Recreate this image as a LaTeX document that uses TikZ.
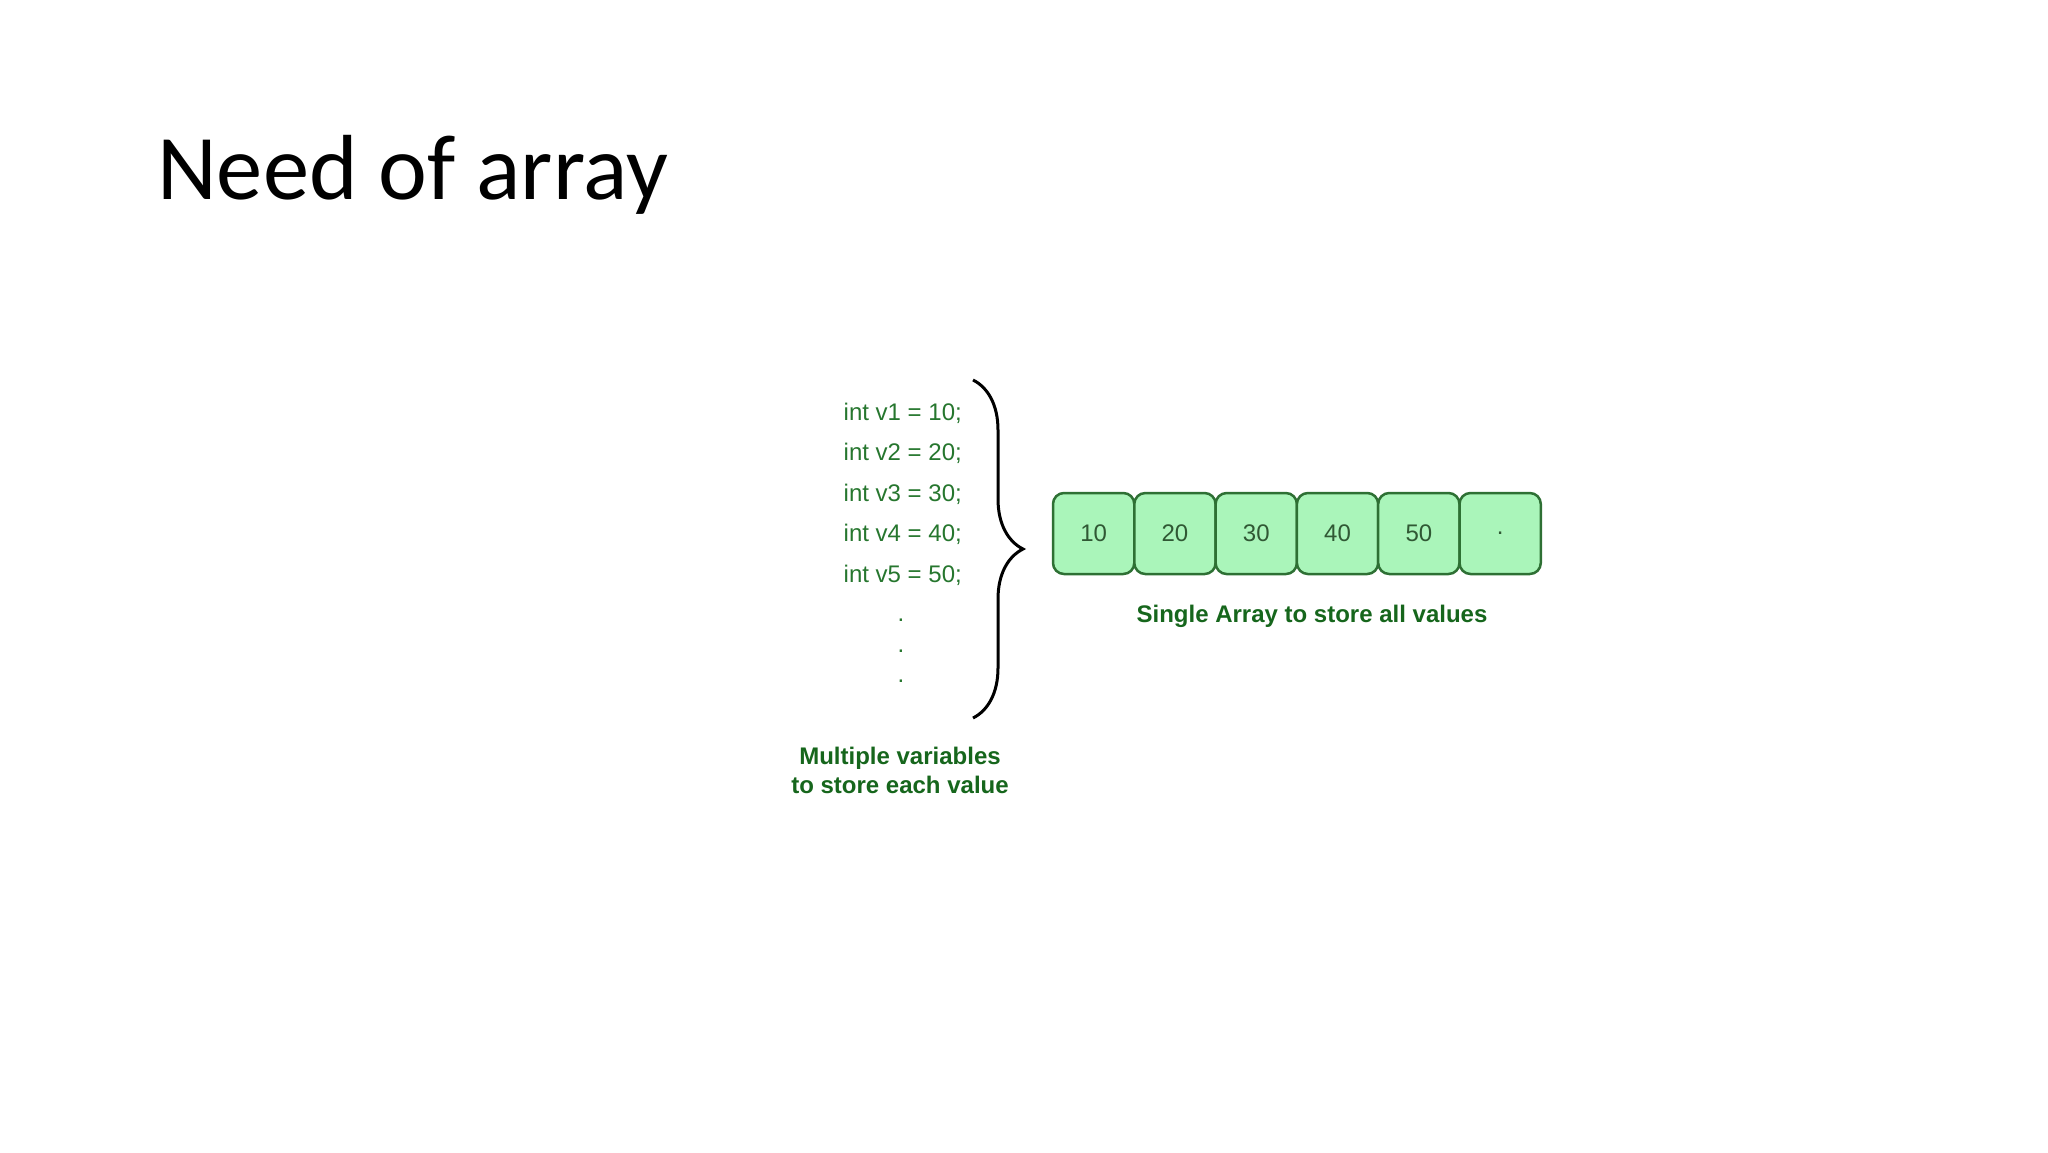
\documentclass[tikz,border=0pt]{standalone}
\usepackage{fontspec}
\usepackage{xcolor}
\usepackage{tikz}
\usetikzlibrary{positioning,decorations.pathreplacing}
\setmainfont{Carlito}
\newfontfamily\arialfont{Liberation Sans}
\definecolor{varcolor}{RGB}{38,118,46}
\definecolor{labelcolor}{RGB}{22,102,28}
\definecolor{cellfill}{RGB}{170,245,186}
\definecolor{celldraw}{RGB}{46,112,52}
\definecolor{cellnum}{RGB}{48,88,52}

\tikzset{
    varline/.style={anchor=base east, inner sep=0pt, text=varcolor, font=\arialfont\fontsize{24}{28}\selectfont},
    cell/.style={draw=celldraw, fill=cellfill, line width=2.5pt, rounded corners=11pt, minimum width=81.3pt, minimum height=81pt, inner sep=0pt, outer sep=0pt, text=cellnum, font=\arialfont\fontsize{24}{28}\selectfont},
    caption/.style={inner sep=0pt, text=labelcolor, font=\arialfont\bfseries\fontsize{24}{28.5}\selectfont}
}

\begin{document}
\begin{tikzpicture}[x=1pt, y=-1pt]
        \useasboundingbox (0,0) rectangle (2048,1152);

        % slide title
        \node[anchor=base west, inner sep=0pt, font=\fontsize{92.5}{100}\selectfont] (title) at (157,199) {Need of array};

        % one variable per value
        \node[varline] (v1) at (962,420) {int v1 = 10;};
        \node[varline] (v2) at (962,460.5) {int v2 = 20;};
        \node[varline] (v3) at (962,501) {int v3 = 30;};
        \node[varline] (v4) at (962,541.5) {int v4 = 40;};
        \node[varline] (v5) at (962,582) {int v5 = 50;};
        \node[varline, anchor=base] (dot1) at (901,621) {.};
        \node[varline, anchor=base] (dot2) at (901,652) {.};
        \node[varline, anchor=base] (dot3) at (901,682) {.};

        \coordinate (bracetop) at (973,380);
        \coordinate (bracebot) at (973,718);
        \draw[line width=3pt, decorate, decoration={brace, amplitude=50pt}] (bracetop) -- (bracebot);

        \node[caption, anchor=north, align=center] (multilabel) at (900,747) {Multiple variables\\to store each value};

        % the array
        \node[cell, anchor=west] (cell1) at (1053,533.5) {10};
        \node[cell, right=0pt of cell1] (cell2) {20};
        \node[cell, right=0pt of cell2] (cell3) {30};
        \node[cell, right=0pt of cell3] (cell4) {40};
        \node[cell, right=0pt of cell4] (cell5) {50};
        \node[cell, right=0pt of cell5] (cell6) {.};

        \node[caption, anchor=base] (arraylabel) at (1312,622) {Single Array to store all values};
\end{tikzpicture}
\end{document}
